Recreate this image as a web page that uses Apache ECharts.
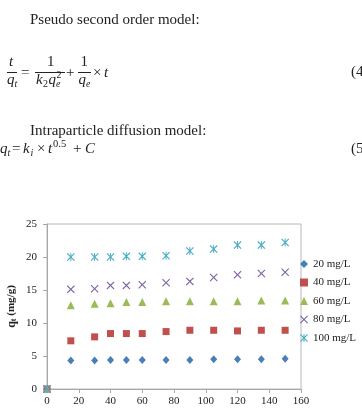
<!DOCTYPE html>
<html>
<head>
<meta charset="utf-8">
<script src="https://cdn.jsdelivr.net/npm/echarts@6/dist/echarts.min.js"></script>
<style>
html,body{margin:0;padding:0;background:#fff;}
#chart{width:362px;height:416px;}
</style>
</head>
<body>
<div id="chart"></div>
<script>
// ---- data ----
var times = [0, 15, 30, 40, 50, 60, 75, 90, 105, 120, 135, 150];
var c20  = [0, 4.3, 4.3, 4.4, 4.4, 4.4, 4.4, 4.4, 4.5, 4.5, 4.5, 4.6];
var c40  = [0, 7.3, 7.9, 8.4, 8.4, 8.4, 8.7, 8.9, 8.9, 8.8, 8.9, 8.9];
var c60  = [0, 12.7, 12.9, 13.0, 13.2, 13.2, 13.3, 13.3, 13.3, 13.3, 13.4, 13.4];
var c80  = [0, 15.1, 15.2, 15.7, 15.7, 15.8, 16.1, 16.3, 16.9, 17.3, 17.5, 17.7];
var c100 = [0, 20.0, 20.0, 20.0, 20.1, 20.1, 20.2, 20.9, 21.2, 21.8, 21.8, 22.2];
var seriesNames = ['20 mg/L', '40 mg/L', '60 mg/L', '80 mg/L', '100 mg/L'];
var xTicks = [0, 20, 40, 60, 80, 100, 120, 140, 160];
var yTicks = [0, 5, 10, 15, 20, 25];

var SERIF = '"Liberation Serif", "DejaVu Serif", serif';
var X_PATH = 'path://M0,1L1,0L5,4L9,0L10,1L6,5L10,9L9,10L5,6L1,10L0,9L4,5Z';
var STAR_PATH = 'path://M0,1L1,0L5,4L9,0L10,1L6,5L10,9L9,10L5,6L1,10L0,9L4,5ZM4.4,0L5.6,0L5.6,10L4.4,10Z';

function pairs(arr) { return times.map(function (t, i) { return [t, arr[i]]; }); }

var styles = [
  { color: '#4A7EBB', symbol: 'diamond', size: [7, 8] },
  { color: '#C0504D', symbol: 'rect', size: 7 },
  { color: '#9BBB59', symbol: 'triangle', size: 8 },
  { color: '#8064A2', symbol: X_PATH, size: 8 },
  { color: '#4BACC6', symbol: STAR_PATH, size: 8 }
];
var allData = [c20, c40, c60, c80, c100];

var series = allData.map(function (arr, i) {
  return {
    name: seriesNames[i],
    type: 'scatter',
    data: pairs(arr),
    symbol: styles[i].symbol,
    symbolSize: styles[i].size,
    itemStyle: { color: styles[i].color, opacity: 1 },
    clip: false,
    emphasis: { disabled: true }
  };
});

// ---- text graphics (equations) ----
function txt(s, x, y, opt) {
  opt = opt || {};
  var size = opt.size || 15;
  var font = (opt.italic ? 'italic ' : '') + size + 'px ' + SERIF;
  return {
    type: 'text', x: x, y: y, silent: true,
    style: {
      text: s, font: font, fill: '#222',
      align: opt.align || 'left', verticalAlign: 'middle',
      textAlign: opt.align || 'left', textVerticalAlign: 'middle'
    }
  };
}
function bar(x1, x2, y) {
  return { type: 'line', silent: true, shape: { x1: x1, y1: y, x2: x2, y2: y }, style: { stroke: '#222', lineWidth: 1 } };
}

var graphics = [
  txt('Pseudo second order model:', 30, 20),
  // t / q_t
  txt('t', 9, 62, { italic: true }),
  bar(7, 17, 72.5),
  txt('q', 7, 80, { italic: true }),
  txt('t', 14.5, 84, { italic: true, size: 10 }),
  txt('=', 21, 73),
  // 1 / (k2 qe^2)
  txt('1', 47, 62),
  bar(35, 65, 72.5),
  txt('k', 36, 80, { italic: true }),
  txt('2', 43, 84, { size: 10 }),
  txt('q', 48.5, 80, { italic: true }),
  txt('e', 56, 84.5, { italic: true, size: 10 }),
  txt('2', 56.5, 75.5, { size: 10 }),
  txt('+', 66, 73),
  // 1 / qe
  txt('1', 80.5, 62),
  bar(78, 91, 72.5),
  txt('q', 78.5, 80, { italic: true }),
  txt('e', 86, 84.5, { italic: true, size: 10 }),
  txt('\u00d7', 93, 73),
  txt('t', 104, 73, { italic: true }),
  txt('(4)', 351, 72),

  txt('Intraparticle diffusion model:', 30, 131),
  txt('q', 0, 149, { italic: true }),
  txt('t', 7.5, 153, { italic: true, size: 10 }),
  txt('=', 12, 149),
  txt('k', 23, 149, { italic: true }),
  txt('i', 30.5, 153, { italic: true, size: 10 }),
  txt('\u00d7', 37, 149),
  txt('t', 48, 149, { italic: true }),
  txt('0.5', 53, 144, { size: 10.5 }),
  txt('+', 73, 149),
  txt('C', 85, 149, { italic: true }),
  txt('(5)', 351, 149)
];

var chart = echarts.init(document.getElementById('chart'), null, { renderer: 'canvas' });
chart.setOption({
  backgroundColor: '#fff',
  animation: false,
  graphic: graphics,
  grid: {
    left: 47, right: 61, top: 224, bottom: 27,
    containLabel: false,
    outerBoundsMode: 'none',
    show: true, borderColor: '#b8b8b8', borderWidth: 1, backgroundColor: 'transparent'
  },
  legend: {
    orient: 'vertical',
    left: 300, top: 258,
    itemWidth: 8, itemHeight: 8,
    itemGap: 6.5,
    padding: 0,
    selectedMode: false,
    data: seriesNames,
    textStyle: { fontFamily: SERIF, fontSize: 11, color: '#222', lineHeight: 12 }
  },
  xAxis: {
    type: 'value',
    min: xTicks[0], max: xTicks[xTicks.length - 1], interval: 20,
    axisLine: { show: true, onZero: false, lineStyle: { color: '#a8a8a8', width: 1 } },
    axisTick: { show: true, inside: false, length: 4, lineStyle: { color: '#a8a8a8' } },
    axisLabel: { fontFamily: SERIF, fontSize: 11, color: '#222', margin: 7 },
    splitLine: { show: false }
  },
  yAxis: {
    type: 'value',
    min: yTicks[0], max: yTicks[yTicks.length - 1], interval: 5,
    axisLine: { show: true, lineStyle: { color: '#a8a8a8', width: 1 } },
    axisTick: { show: true, inside: false, length: 4, lineStyle: { color: '#a8a8a8' } },
    axisLabel: { fontFamily: SERIF, fontSize: 11, color: '#222', margin: 10 },
    splitLine: { show: false },
    name: '{q|q}{t|t}{u| (mg/g)}',
    nameLocation: 'middle',
    nameGap: 29,
    nameMoveOverlap: false,
    nameTextStyle: {
      rich: {
        q: { fontFamily: SERIF, fontSize: 12, fontWeight: 'bold', color: '#222' },
        t: { fontFamily: SERIF, fontSize: 8, fontWeight: 'bold', color: '#222', verticalAlign: 'bottom', padding: [5, 0, 0, 0] },
        u: { fontFamily: SERIF, fontSize: 11, fontWeight: 'bold', color: '#222' }
      }
    }
  },
  series: series
});
</script>
</body>
</html>
